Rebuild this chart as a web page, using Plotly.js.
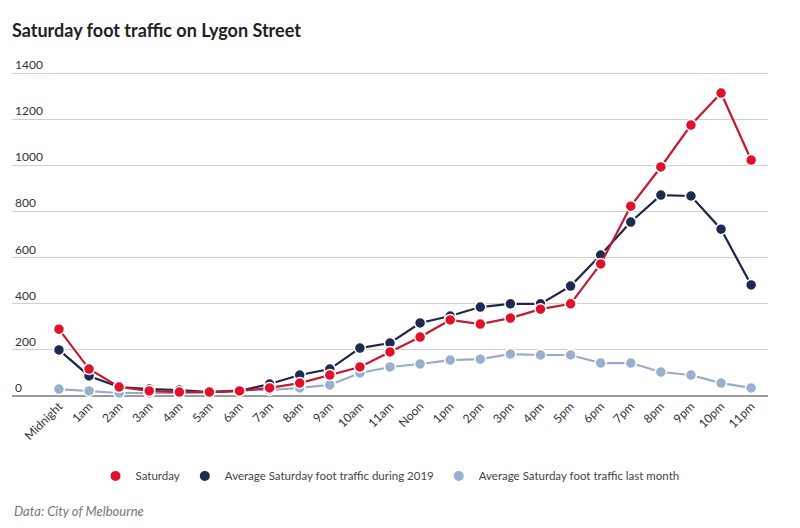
<!DOCTYPE html>
<html>
<head>
<meta charset="utf-8">
<script src="https://cdn.plot.ly/plotly-3.0.1.min.js"></script>
<style>html,body{margin:0;padding:0;background:#fff;}#chart{width:800px;height:528px;}</style>
</head>
<body>
<div id="chart"></div>
<script>
const hours = ["Midnight","1am","2am","3am","4am","5am","6am","7am","8am","9am","10am","11am","Noon","1pm","2pm","3pm","4pm","5pm","6pm","7pm","8pm","9pm","10pm","11pm"];
const saturday = [290,117,39,22,17,17,22,35,56,91,126,191,256,330,312,338,377,400,573,824,994,1176,1315,1024];
const avg2019 = [200,87,39,30,26,17,22,52,91,117,208,230,317,347,386,400,400,477,612,755,872,868,724,482];
const lastMonth = [30,22,13,13,13,17,26,26,35,48,100,126,139,156,160,182,178,178,143,143,104,91,56,35];
const yTicks = [0,200,400,600,800,1000,1200,1400];

const seriesNames = ["Saturday","Average Saturday foot traffic during 2019","Average Saturday foot traffic last month"];
const lineColors = ["#c41a2e","#1e2748","#9aabc8"];
const markerColors = ["#e0112b","#1e2a50","#9aaed0"];
const values = [saturday, avg2019, lastMonth];

const traces = [];
[2,1,0].forEach(i=>{
  traces.push({x: hours, y: values[i], type: "scatter", mode: "lines", showlegend: false,
    line: {color: lineColors[i], width: 2.2}, cliponaxis: false, hoverinfo: "skip"});
  traces.push({x: hours, y: values[i], name: seriesNames[i], type: "scatter", mode: "markers",
    marker: {color: markerColors[i], size: 11, line: {color: "#ffffff", width: 1.5}}, cliponaxis: false,
    legendrank: i+1});
});

const pxPerUnit = 323/1400;
const yMax = 1480;
const topMargin = 73 - (yMax-1400)*pxPerUnit;
const plotH = 396 - topMargin;

const layout = {
  width: 800, height: 528,
  margin: {l: 12, r: 32, t: topMargin, b: 132},
  paper_bgcolor: "#fff", plot_bgcolor: "#fff",
  font: {family: "Lato, 'Open Sans', sans-serif", color: "#333", size: 12},
  title: {text: "<b>Saturday foot traffic on Lygon Street</b>", x: 0.015, xref: "container", xanchor: "left",
          y: 0.941, yref: "container", yanchor: "middle", font: {size: 18, color: "#222", family: "Lato, 'Open Sans', sans-serif"}},
  xaxis: {type: "category", range: [-1.56, 23.56], showgrid: false, zeroline: false, showline: false,
          tickangle: -45, tickfont: {size: 12, color: "#333"}, ticks: "", fixedrange: true},
  yaxis: {range: [0, yMax], tickvals: yTicks, ticklabelposition: "inside top",
          gridcolor: "#cfcfcf", gridwidth: 1, zeroline: true, zerolinecolor: "#9a9a9a", zerolinewidth: 1.2,
          showline: false, tickfont: {size: 12, color: "#333"}, ticks: "", fixedrange: true},
  showlegend: true,
  legend: {orientation: "h", x: 0.5, xanchor: "center", y: -80/plotH, yanchor: "middle",
           font: {size: 11.5, color: "#444"}, itemsizing: "constant", itemwidth: 30},
  annotations: [{text: "<i>Data: City of Melbourne</i>", xref: "paper", yref: "paper", x: 0, y: -115/plotH,
                 xanchor: "left", yanchor: "middle", showarrow: false, font: {size: 13, color: "#777"}}]
};
Plotly.newPlot("chart", traces, layout, {displayModeBar: false, staticPlot: true});
</script>
</body>
</html>
